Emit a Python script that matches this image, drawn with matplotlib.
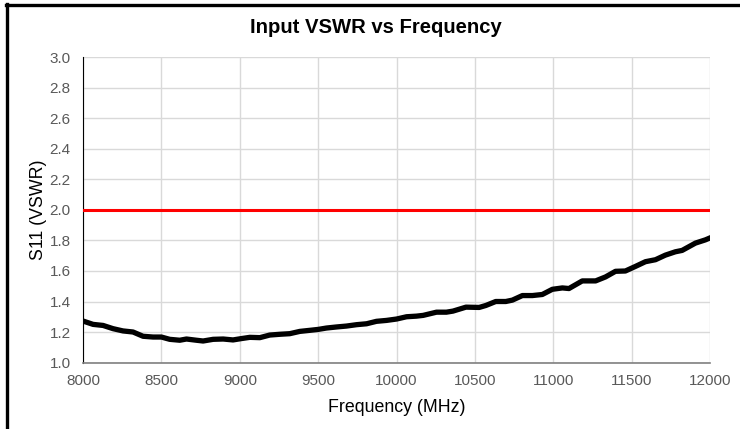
import numpy as np
import matplotlib
matplotlib.use("Agg")
import matplotlib.pyplot as plt
from matplotlib.lines import Line2D

# Datos (frecuencia en MHz, VSWR)
freq = [8000, 8064, 8128, 8191, 8255, 8319, 8383, 8447, 8500, 8553, 8617, 8660,
        8723, 8766, 8830, 8894, 8957, 9011, 9064, 9128, 9191, 9255, 9319, 9383,
        9447, 9500, 9553, 9617, 9681, 9745, 9809, 9872, 9936, 10000, 10064, 10127,
        10170, 10255, 10318, 10360, 10443, 10527, 10570, 10633, 10697, 10739, 10803,
        10867, 10930, 10994, 11058, 11100, 11185, 11270, 11333, 11397, 11460, 11524,
        11588, 11652, 11715, 11779, 11822, 11907, 11970, 12000]
vswr = [1.272, 1.250, 1.243, 1.222, 1.207, 1.200, 1.172, 1.167, 1.167, 1.152, 1.146, 1.154,
        1.146, 1.141, 1.152, 1.154, 1.148, 1.157, 1.165, 1.163, 1.180, 1.185, 1.189, 1.204,
        1.211, 1.217, 1.226, 1.233, 1.239, 1.248, 1.254, 1.270, 1.276, 1.285, 1.300, 1.304,
        1.309, 1.330, 1.330, 1.337, 1.363, 1.361, 1.374, 1.400, 1.400, 1.409, 1.439,
        1.439, 1.446, 1.480, 1.489, 1.485, 1.535, 1.535, 1.561, 1.598, 1.600, 1.630,
        1.661, 1.674, 1.704, 1.726, 1.735, 1.783, 1.804, 1.817]
limite = 2.0

x_ticks = [8000, 8500, 9000, 9500, 10000, 10500, 11000, 11500, 12000]
y_ticks = [1.0, 1.2, 1.4, 1.6, 1.8, 2.0, 2.2, 2.4, 2.6, 2.8, 3.0]

plt.rcParams['font.family'] = ['Liberation Sans', 'DejaVu Sans']

fig = plt.figure(figsize=(7.4, 4.29), dpi=100)
ax = fig.add_axes([0.1122, 0.155, 0.8473, 0.711])

ax.plot([x_ticks[0], x_ticks[-1]], [limite, limite], color='#ff0000', lw=2.2, zorder=3)
ax.plot(freq, vswr, color='black', lw=3.8, solid_joinstyle='round', zorder=4)

ax.set_xlim(8000, 12000)
ax.set_ylim(1.0, 3.0)
ax.set_xticks(x_ticks)
ax.set_yticks(y_ticks)
ax.set_yticklabels([f"{v:.1f}" for v in y_ticks])
ax.grid(True, color='#d9d9d9', lw=1.0)
ax.set_axisbelow(True)
ax.tick_params(length=0, labelsize=11, labelcolor='#595959')
ax.tick_params(axis='x', pad=8)
ax.tick_params(axis='y', pad=9)

for s in ['top', 'right']:
    ax.spines[s].set_visible(False)
ax.spines['left'].set_color('black')
ax.spines['bottom'].set_color('#808080')
ax.spines['bottom'].set_linewidth(1.2)

fig.text(0.508, 0.935, 'Input VSWR vs Frequency', fontsize=14.6, fontweight='bold',
         ha='center', va='center')
ax.set_xlabel('Frequency (MHz)', fontsize=12.8, labelpad=8)
ax.set_ylabel('S11 (VSWR)', fontsize=12.8, labelpad=2)

# Borde exterior (solo izquierda y arriba visibles)
fig.add_artist(Line2D([0.009, 0.009], [0.0, 0.991], transform=fig.transFigure, color='black', lw=2.4))
fig.add_artist(Line2D([0.008, 1.0], [0.989, 0.989], transform=fig.transFigure, color='black', lw=2.4))

fig.savefig('out.png', dpi=100)
